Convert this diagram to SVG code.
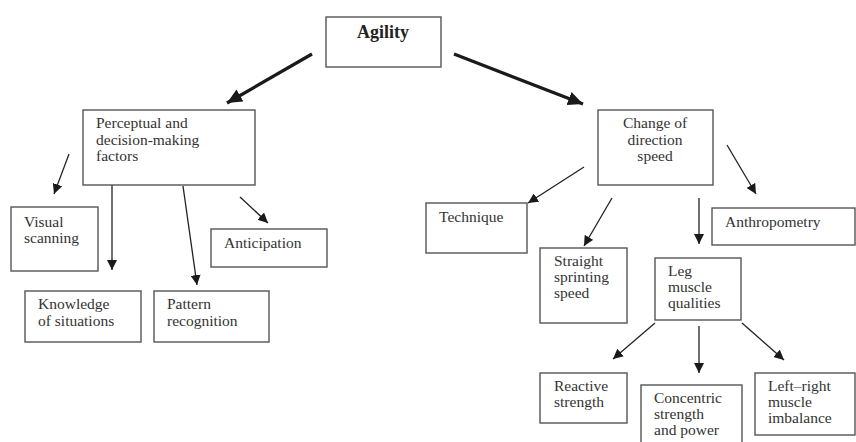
<svg xmlns="http://www.w3.org/2000/svg" width="856" height="442" viewBox="0 0 856 442">
<defs>
<style>
.box{fill:#fff;stroke:#555;stroke-width:1.4}
.t{font-family:"Liberation Serif","Times New Roman",serif;font-size:15.5px;fill:#333}
.b{font-weight:bold;font-size:18px;fill:#222}
.c{stroke:#222;stroke-width:1.3;fill:none}
.k{stroke:#1a1a1a;stroke-width:3.2;fill:none}
</style>
<marker id="ah" markerUnits="userSpaceOnUse" markerWidth="12" markerHeight="10" refX="10" refY="5" orient="auto"><path d="M0,0 L10,5 L0,10 Z" fill="#1a1a1a"/></marker>
<marker id="ahk" markerUnits="userSpaceOnUse" markerWidth="16" markerHeight="14" refX="15" refY="7" orient="auto"><path d="M0,0 L15,7 L0,14 Z" fill="#1a1a1a"/></marker>
</defs>
<rect width="856" height="442" fill="#fff"/>
<g id="connectors">
<line class="k" x1="312" y1="54" x2="227" y2="103" marker-end="url(#ahk)"/>
<line class="k" x1="454" y1="54" x2="583" y2="104" marker-end="url(#ahk)"/>
<line class="c" x1="69" y1="154" x2="54" y2="194" marker-end="url(#ah)"/>
<line class="c" x1="112" y1="185" x2="112" y2="270" marker-end="url(#ah)"/>
<line class="c" x1="183" y1="186" x2="197" y2="285" marker-end="url(#ah)"/>
<line class="c" x1="240" y1="197" x2="268" y2="223" marker-end="url(#ah)"/>
<line class="c" x1="584" y1="167" x2="528" y2="203" marker-end="url(#ah)"/>
<line class="c" x1="727" y1="145" x2="756" y2="194" marker-end="url(#ah)"/>
<line class="c" x1="612" y1="198" x2="584" y2="246" marker-end="url(#ah)"/>
<line class="c" x1="699" y1="198" x2="699" y2="244" marker-end="url(#ah)"/>
<line class="c" x1="655" y1="323" x2="613" y2="359" marker-end="url(#ah)"/>
<line class="c" x1="699" y1="326" x2="699" y2="373" marker-end="url(#ah)"/>
<line class="c" x1="742" y1="323" x2="784" y2="360" marker-end="url(#ah)"/>
</g>
<g id="agility"><rect class="box" x="326" y="17" width="115" height="50"/><text class="t b" x="383" y="38" text-anchor="middle">Agility</text></g>
<g id="perceptual"><rect class="box" x="83" y="110" width="172" height="75"/><text class="t" x="96" y="128">Perceptual and</text><text class="t" x="96" y="145">decision-making</text><text class="t" x="96" y="161">factors</text></g>
<g id="visual"><rect class="box" x="11" y="207" width="87" height="64"/><text class="t" x="24" y="227">Visual</text><text class="t" x="24" y="243">scanning</text></g>
<g id="knowledge"><rect class="box" x="25" y="291" width="116" height="51"/><text class="t" x="38" y="309">Knowledge</text><text class="t" x="38" y="326">of situations</text></g>
<g id="pattern"><rect class="box" x="154" y="291" width="115" height="51"/><text class="t" x="167" y="309">Pattern</text><text class="t" x="167" y="326">recognition</text></g>
<g id="anticipation"><rect class="box" x="211" y="229" width="116" height="38"/><text class="t" x="224" y="248">Anticipation</text></g>
<g id="change"><rect class="box" x="598" y="110" width="115" height="75"/><text class="t" x="655" y="128" text-anchor="middle">Change of</text><text class="t" x="655" y="145" text-anchor="middle">direction</text><text class="t" x="655" y="161" text-anchor="middle">speed</text></g>
<g id="technique"><rect class="box" x="426" y="203" width="101" height="50"/><text class="t" x="439" y="222">Technique</text></g>
<g id="anthropometry"><rect class="box" x="712" y="208" width="143" height="37"/><text class="t" x="725" y="227">Anthropometry</text></g>
<g id="straight"><rect class="box" x="540" y="248" width="87" height="75"/><text class="t" x="554" y="266">Straight</text><text class="t" x="554" y="282">sprinting</text><text class="t" x="554" y="298">speed</text></g>
<g id="leg"><rect class="box" x="655" y="258" width="86" height="62"/><text class="t" x="668" y="276">Leg</text><text class="t" x="668" y="292">muscle</text><text class="t" x="668" y="308">qualities</text></g>
<g id="reactive"><rect class="box" x="540" y="373" width="87" height="50"/><text class="t" x="554" y="391">Reactive</text><text class="t" x="554" y="407">strength</text></g>
<g id="concentric"><rect class="box" x="641" y="385" width="101" height="62"/><text class="t" x="654" y="403">Concentric</text><text class="t" x="654" y="419">strength</text><text class="t" x="654" y="435">and power</text></g>
<g id="leftright"><rect class="box" x="755" y="373" width="100" height="62"/><text class="t" x="768" y="391">Left–right</text><text class="t" x="768" y="407">muscle</text><text class="t" x="768" y="423">imbalance</text></g>
</svg>
